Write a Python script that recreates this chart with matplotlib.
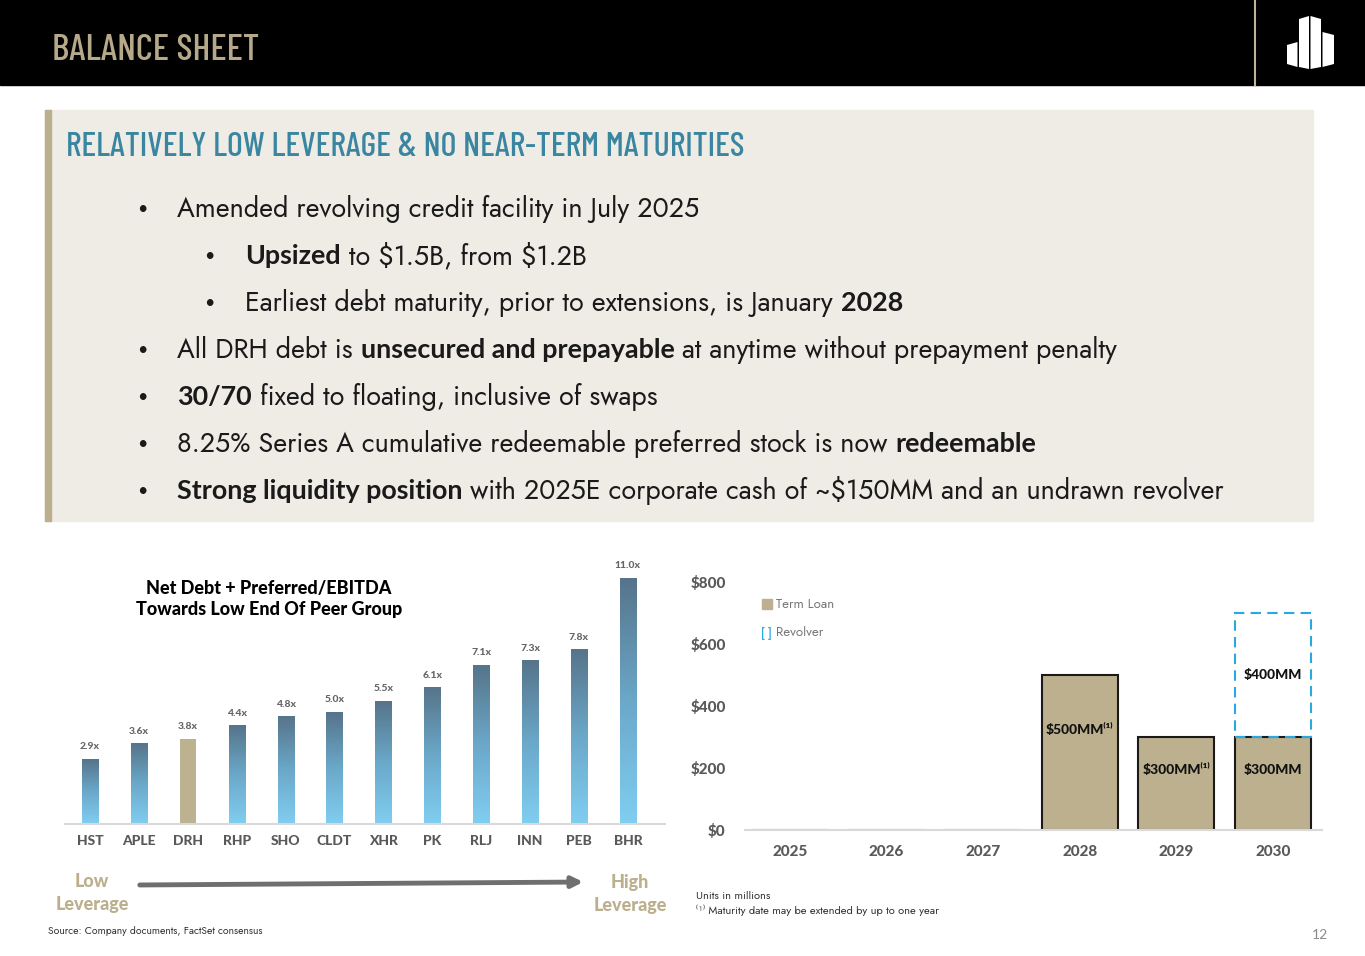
import matplotlib
matplotlib.use("Agg")
import matplotlib.pyplot as plt
import numpy as np
from matplotlib.patches import Rectangle, Polygon, FancyArrowPatch
from matplotlib.colors import LinearSegmentedColormap

# ---- data ----
tickers = ["HST", "APLE", "DRH", "RHP", "SHO", "CLDT", "XHR", "PK", "RLJ", "INN", "PEB", "BHR"]
leverage = [2.9, 3.6, 3.8, 4.4, 4.8, 5.0, 5.5, 6.1, 7.1, 7.3, 7.8, 11.0]
highlight = "DRH"

years = ["2025", "2026", "2027", "2028", "2029", "2030"]
term_loan = [0, 0, 0, 500, 300, 300]
revolver = [0, 0, 0, 0, 0, 400]
term_labels = ["", "", "", "$500MM⁽¹⁾", "$300MM⁽¹⁾", "$300MM"]
revolver_labels = ["", "", "", "", "", "$400MM"]
yticks = [0, 200, 400, 600, 800]

bullets = [
    (1, [("Amended revolving credit facility in July 2025", False)]),
    (2, [("Upsized", True), (" to $1.5B, from $1.2B", False)]),
    (2, [("Earliest debt maturity, prior to extensions, is January ", False), ("2028", True)]),
    (1, [("All DRH debt is ", False), ("unsecured and prepayable", True),
         (" at anytime without prepayment penalty", False)]),
    (1, [("30/70", True), (" fixed to floating, inclusive of swaps", False)]),
    (1, [("8.25% Series A cumulative redeemable preferred stock is now ", False), ("redeemable", True)]),
    (1, [("Strong liquidity position", True),
         (" with 2025E corporate cash of ~$150MM and an undrawn revolver", False)]),
]

# ---- look ----
W, H = 1365, 956
TAN = "#BBAF8D"
TEAL = "#3A86A0"
GREY = "#595959"
BODY = ["Jost", "Lato", "DejaVu Sans"]
BOLD = ["Lato", "DejaVu Sans"]
COND = ["Barlow Condensed", "Roboto Condensed", "DejaVu Sans"]


def fx(x):
    return x / W


def fy(y):
    return 1 - y / H


fig = plt.figure(figsize=(W / 100, H / 100), dpi=100)
fig.patch.set_facecolor("white")
renderer = fig.canvas.get_renderer()


def text_width(s, **kw):
    t = fig.text(0, 0, "|" + s + "|", **kw)
    t2 = fig.text(0, 0, "||", **kw)
    w = t.get_window_extent(renderer).width - t2.get_window_extent(renderer).width
    t.remove()
    t2.remove()
    return w


def run_kw(bold, size, color="#1a1a1a"):
    return dict(fontsize=size, fontweight="bold" if bold else "normal",
                family=BOLD if bold else BODY, color=color, parse_math=False)


def runs(x, y, parts, size):
    for s, bold in parts:
        kw = run_kw(bold, size)
        fig.text(fx(x), fy(y), s, va="center", ha="left", **kw)
        x += text_width(s, **kw)


def runs_width(parts, size):
    return sum(text_width(s, **run_kw(b, size)) for s, b in parts)


# header band
fig.add_artist(Rectangle((0, fy(85)), 1, 85 / H, transform=fig.transFigure,
                         color="black", zorder=0))
title_kw = dict(family=COND, fontweight=500, color="#B5A98A")
ts = 28 * 206 / text_width("BALANCE SHEET", fontsize=28, **title_kw)
fig.text(fx(52), fy(51), "BALANCE SHEET", fontsize=ts, va="center", ha="left", **title_kw)
fig.add_artist(plt.Line2D([fx(1255), fx(1255)], [fy(0), fy(85)], transform=fig.transFigure,
                          color="#BFB595", lw=1.5))
logo = [
    [(1287, 45), (1297.5, 42), (1297.5, 67), (1287, 64)],
    [(1299, 19), (1309, 16), (1309, 69), (1299, 67)],
    [(1310.5, 16), (1321, 19), (1321, 67), (1310.5, 69)],
    [(1322.5, 32), (1334, 35), (1334, 64), (1322.5, 67)],
]
for pts in logo:
    fig.add_artist(Polygon([(fx(a), fy(b)) for a, b in pts], closed=True,
                           transform=fig.transFigure, color="white", lw=0))

# grey panel with bullets
fig.add_artist(Rectangle((fx(45), fy(521)), (1313 - 45) / W, (521 - 110) / H,
                         transform=fig.transFigure, color="#EFECE6", zorder=0))
fig.add_artist(Rectangle((fx(45), fy(521)), 6 / W, (521 - 110) / H,
                         transform=fig.transFigure, color=TAN, zorder=0))
head = "RELATIVELY LOW LEVERAGE & NO NEAR-TERM MATURITIES"
head_kw = dict(family=COND, fontweight=500, color=TEAL)
hs = 24 * 680 / text_width(head, fontsize=24, **head_kw)
fig.text(fx(66), fy(147), head, fontsize=hs, va="center", ha="left", **head_kw)

bs = 18 * 1049 / runs_width(bullets[-1][1], 18)
y = 209
for level, parts in bullets:
    bx, tx = (137, 177) if level == 1 else (204, 245)
    fig.text(fx(bx), fy(y), "•", family=BOLD, fontsize=13, color="#1a1a1a",
             va="center", ha="left")
    runs(tx, y, parts, bs)
    y += 47

# ---- left chart: leverage by peer ----
ax1 = fig.add_axes([fx(65), fy(824), 600 / W, 268 / H])
ax1.patch.set_alpha(0)
cmap = LinearSegmentedColormap.from_list("lev", ["#80CEF1", "#6BA8C9", "#56748A"])
grad = np.linspace(0, 1, 256).reshape(-1, 1)
bw = 0.33
for i, v in enumerate(leverage):
    if tickers[i] == highlight:
        ax1.bar(i, v, width=bw, color="#BDB28F", zorder=2)
    else:
        ax1.imshow(grad, extent=[i - bw / 2, i + bw / 2, 0, v], origin="lower",
                   cmap=cmap, aspect="auto", zorder=2)
    ax1.annotate(f"{v:.1f}x", (i, v), xytext=(0, 9), textcoords="offset points",
                 ha="center", va="center", fontsize=7.5, fontweight=900,
                 color="#666666", family=BOLD)
ax1.set_xlim(-0.511, 11.76)
ax1.set_ylim(0, 12)
ax1.set_xticks(range(len(tickers)))
ax1.set_xticklabels(tickers, fontsize=10, fontweight=900, color=GREY, family=BOLD)
ax1.tick_params(axis="x", length=0, pad=8)
ax1.set_yticks([])
for s in ["top", "right", "left"]:
    ax1.spines[s].set_visible(False)
ax1.spines["bottom"].set_color("#d9d9d9")
ax1.spines["bottom"].set_linewidth(1.5)

fig.text(fx(269), fy(599), "Net Debt + Preferred/EBITDA\nTowards Low End Of Peer Group",
         ha="center", va="center", fontsize=13, fontweight=900, color="black",
         family=BOLD, linespacing=1.35)

arrow = FancyArrowPatch((fx(137), fy(885)), (fx(586), fy(882)), transform=fig.transFigure,
                        arrowstyle="-|>", mutation_scale=16, color="#6f6f6f", lw=3.5)
fig.add_artist(arrow)
fig.text(fx(92), fy(893), "Low\nLeverage", ha="center", va="center", fontsize=13,
         fontweight=900, color=TAN, family=BOLD, linespacing=1.4)
fig.text(fx(630), fy(894), "High\nLeverage", ha="center", va="center", fontsize=13,
         fontweight=900, color=TAN, family=BOLD, linespacing=1.4)
fig.text(fx(48), fy(931), "Source: Company documents, FactSet consensus", ha="left",
         va="center", fontsize=7.5, color="#333333", family=BODY)

# ---- right chart: maturities ----
ax2 = fig.add_axes([fx(745), fy(830), 577 / W, 260 / H])
ax2.patch.set_alpha(0)
x = np.arange(len(years))
bw2 = 0.79
ax2.bar(x, term_loan, width=bw2, color="#BDB08F", edgecolor="#1a1a1a", linewidth=1.5, zorder=2)
rx = [i for i in x if revolver[i] > 0]
ax2.bar(rx, [revolver[i] for i in rx], bottom=[term_loan[i] for i in rx], width=bw2,
        fill=False, edgecolor="#29A9E0", linestyle=(0, (5, 3)), linewidth=1.5, zorder=3)
for i in x:
    if term_labels[i]:
        ax2.text(i, term_loan[i] * 0.65, term_labels[i], ha="center", va="center",
                 fontsize=10, fontweight=900, color="#111111", family=BOLD, parse_math=False)
    if revolver_labels[i]:
        ax2.text(i, term_loan[i] + revolver[i] / 2, revolver_labels[i], ha="center",
                 va="center", fontsize=10, fontweight=900, color="#111111",
                 family=BOLD, parse_math=False)
ax2.set_xlim(-0.466, 5.51)
ax2.set_ylim(0, 838.7)
ax2.set_xticks(x)
ax2.set_xticklabels(years, fontsize=11, fontweight=900, color=GREY, family=BOLD)
ax2.set_yticks(yticks)
ax2.set_yticklabels([f"${v}" for v in yticks], fontsize=11, fontweight=900,
                    color=GREY, family=BOLD)
ax2.tick_params(axis="x", length=0, pad=11)
ax2.tick_params(axis="y", length=0, pad=14)
for s in ["top", "right", "left"]:
    ax2.spines[s].set_visible(False)
ax2.spines["bottom"].set_color("#d9d9d9")
ax2.spines["bottom"].set_linewidth(1.5)

# legend
fig.add_artist(Rectangle((fx(762), fy(609)), 10 / W, 10 / H, transform=fig.transFigure,
                         color="#BDB08F"))
fig.text(fx(776), fy(604), "Term Loan", ha="left", va="center", fontsize=9.5,
         color="#777777", family=BODY)
fig.text(fx(761), fy(633), "[ ]", ha="left", va="center", fontsize=9, fontweight="bold",
         color="#29A9E0", family=BOLD)
fig.text(fx(776), fy(632), "Revolver", ha="left", va="center", fontsize=9.5,
         color="#777777", family=BODY)

fig.text(fx(696), fy(896), "Units in millions", ha="left", va="center", fontsize=8,
         color="#333333", family=BODY)
fig.text(fx(696), fy(910), "⁽¹⁾ Maturity date may be extended by up to one year", ha="left",
         va="center", fontsize=8, color="#333333", family=BODY)
fig.text(fx(1320), fy(935), "12", ha="center", va="center", fontsize=10,
         color="#8a8a8a", family=BOLD)

fig.savefig("out.png", dpi=100)
